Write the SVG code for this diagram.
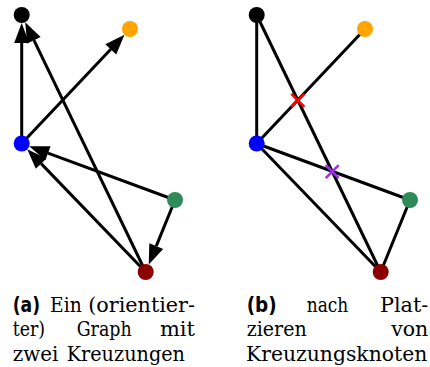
<svg xmlns="http://www.w3.org/2000/svg" width="430" height="367" viewBox="0 0 430 367">
<style>
.e{stroke:#000;stroke-width:3;fill:none}
.a{marker-end:url(#arr)}
.t{font-family:'DejaVu Serif','Liberation Serif',serif;font-size:20.5px;fill:#000}
.b{font-family:'DejaVu Sans','Liberation Sans',sans-serif;font-size:21px;font-weight:bold;fill:#000}
.r{text-anchor:end}
.x{stroke-width:2.6;fill:none}
</style>
<defs>
<marker id="arr" markerUnits="userSpaceOnUse" markerWidth="20" markerHeight="15" viewBox="0 0 20 15" refX="0" refY="7.5" orient="auto" overflow="visible">
<path d="M0,0 L20,7.5 L0,15 z" fill="#000"/>
</marker>
</defs>
<g id="connectors">
<line class="e a" x1="21.7" y1="143.5" x2="21.7" y2="43"/>
<line class="e a" x1="145.7" y1="272" x2="33.9" y2="40.2"/>
<line class="e a" x1="21.7" y1="143.5" x2="110.76" y2="49.34"/>
<line class="e a" x1="175" y1="200" x2="47.97" y2="153.2"/>
<line class="e a" x1="145.7" y1="272" x2="41.14" y2="163.65"/>
<line class="e a" x1="175" y1="200" x2="156.26" y2="246.06"/>
<line class="e" x1="256.7" y1="143.5" x2="256.7" y2="15"/>
<line class="e" x1="380.7" y1="272" x2="256.7" y2="15"/>
<line class="e" x1="256.7" y1="143.5" x2="365" y2="29"/>
<line class="e" x1="410" y1="200" x2="256.7" y2="143.5"/>
<line class="e" x1="380.7" y1="272" x2="256.7" y2="143.5"/>
<line class="e" x1="410" y1="200" x2="380.7" y2="272"/>
</g>
<g id="a-black"><circle cx="21.7" cy="15" r="8" fill="#000"/></g>
<g id="a-orange"><circle cx="130" cy="29" r="8" fill="#ffa500"/></g>
<g id="a-blue"><circle cx="21.7" cy="143.5" r="8" fill="#0000ff"/></g>
<g id="a-green"><circle cx="175" cy="200" r="8" fill="#2e8b57"/></g>
<g id="a-red"><circle cx="145.7" cy="272" r="8" fill="#8b0000"/></g>
<g id="b-black"><circle cx="256.7" cy="15" r="8" fill="#000"/></g>
<g id="b-orange"><circle cx="365" cy="29" r="8" fill="#ffa500"/></g>
<g id="b-blue"><circle cx="256.7" cy="143.5" r="8" fill="#0000ff"/></g>
<g id="b-green"><circle cx="410" cy="200" r="8" fill="#2e8b57"/></g>
<g id="b-red"><circle cx="380.7" cy="272" r="8" fill="#8b0000"/></g>
<g id="b-cross1"><path class="x" stroke="#ff0000" d="M291.4,93.8 L304.4,106.8 M291.4,106.8 L304.4,93.8"/></g>
<g id="b-cross2"><path class="x" stroke="#9b30e6" d="M325.7,165.1 L338.7,178.1 M325.7,178.1 L338.7,165.1"/></g>
<g id="caption-a">
<text class="b" x="12.7" y="311.5" textLength="27.3" lengthAdjust="spacingAndGlyphs">(a)</text>
<text class="t" x="50" y="311.5" textLength="31.7" lengthAdjust="spacingAndGlyphs">Ein</text>
<text class="t r" x="195" y="311.5" textLength="106.7" lengthAdjust="spacingAndGlyphs">(orientier-</text>
<text class="t" x="12.7" y="336.2" textLength="32.3" lengthAdjust="spacingAndGlyphs">ter)</text>
<text class="t" x="76.7" y="336.2" textLength="55" lengthAdjust="spacingAndGlyphs">Graph</text>
<text class="t r" x="195" y="336.2" textLength="35" lengthAdjust="spacingAndGlyphs">mit</text>
<text class="t" x="12.7" y="360.8" textLength="45.6" lengthAdjust="spacingAndGlyphs">zwei</text>
<text class="t" x="66.7" y="360.8" textLength="118.3" lengthAdjust="spacingAndGlyphs">Kreuzungen</text>
</g>
<g id="caption-b">
<text class="b" x="246.7" y="311.5" textLength="30" lengthAdjust="spacingAndGlyphs">(b)</text>
<text class="t" x="306.7" y="311.5" textLength="41.6" lengthAdjust="spacingAndGlyphs">nach</text>
<text class="t r" x="428.3" y="311.5" textLength="48.3" lengthAdjust="spacingAndGlyphs">Plat-</text>
<text class="t" x="246.7" y="336.2" textLength="60" lengthAdjust="spacingAndGlyphs">zieren</text>
<text class="t r" x="428.3" y="336.2">von</text>
<text class="t" x="246" y="360.8" textLength="181.3" lengthAdjust="spacingAndGlyphs">Kreuzungsknoten</text>
</g>
</svg>
